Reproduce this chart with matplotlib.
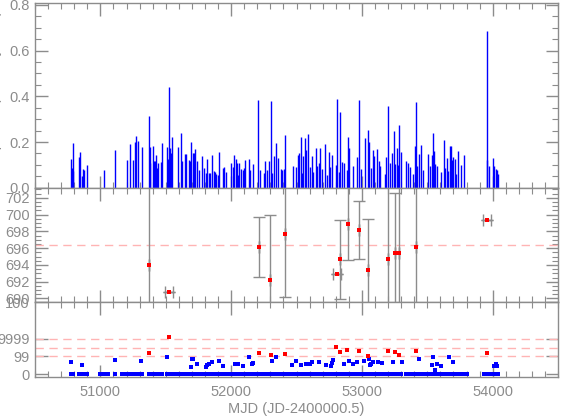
"""
Light curve summary: amplitude spikes, period estimates and quality flags vs MJD
"""
import matplotlib
matplotlib.use("Agg")
import matplotlib.pyplot as plt
from matplotlib.ticker import MultipleLocator
import numpy as np

# top panel: spike amplitudes at each observation date
spike_mjd = [50772, 50780, 50787, 50793, 50837, 50844, 50856, 50864, 50872, 50898,
             51025, 51110, 51202, 51228, 51251, 51266, 51274, 51284, 51315, 51371,
             51376, 51381, 51399, 51407, 51414, 51424, 51435, 51440, 51463, 51474,
             51507, 51517, 51524, 51530, 51537, 51547, 51593, 51616, 51624, 51645,
             51652, 51678, 51685, 51696, 51706, 51719, 51727, 51739, 51754, 51775,
             51793, 51806, 51816, 51827, 51842, 51852, 51865, 51875, 51883, 51896,
             51908, 51939, 51946, 51957, 52000, 52011, 52021, 52034, 52042, 52051,
             52061, 52074, 52088, 52100, 52107, 52134, 52146, 52169, 52207, 52223,
             52253, 52261, 52274, 52289, 52302, 52315, 52325, 52341, 52356, 52382,
             52389, 52402, 52415, 52471, 52499, 52510, 52522, 52533, 52540, 52553,
             52568, 52576, 52586, 52604, 52617, 52629, 52645, 52655, 52668, 52681,
             52698, 52721, 52729, 52745, 52755, 52773, 52801, 52809, 52821, 52834,
             52847, 52860, 52886, 52890, 52903, 52929, 52965, 52975, 52990, 53021,
             53047, 53055, 53072, 53082, 53093, 53116, 53128, 53136, 53177, 53187,
             53197, 53216, 53231, 53246, 53254, 53269, 53277, 53284, 53295, 53339,
             53354, 53366, 53387, 53402, 53412, 53423, 53438, 53451, 53466, 53504,
             53517, 53533, 53540, 53548, 53561, 53573, 53604, 53630, 53638, 53650,
             53661, 53671, 53681, 53692, 53699, 53712, 53722, 53738, 53758, 53778,
             53953, 53957, 53972, 53999, 54011, 54024, 54032, 54039]
spike_amp = [0.124, 0.088, 0.073, 0.194, 0.136, 0.156, 0.051, 0.082, 0.078, 0.099,
             0.078, 0.165, 0.121, 0.191, 0.121, 0.201, 0.225, 0.206, 0.177, 0.315,
             0.180, 0.109, 0.183, 0.118, 0.117, 0.142, 0.088, 0.109, 0.112, 0.196,
             0.180, 0.126, 0.439, 0.172, 0.153, 0.223, 0.180, 0.238, 0.117, 0.146,
             0.147, 0.121, 0.117, 0.201, 0.150, 0.153, 0.168, 0.117, 0.077, 0.139,
             0.085, 0.066, 0.124, 0.063, 0.063, 0.145, 0.074, 0.067, 0.058, 0.055,
             0.158, 0.085, 0.092, 0.070, 0.107, 0.089, 0.143, 0.124, 0.107, 0.055,
             0.107, 0.080, 0.077, 0.085, 0.121, 0.124, 0.077, 0.104, 0.384, 0.077,
             0.066, 0.117, 0.077, 0.118, 0.380, 0.063, 0.139, 0.194, 0.128, 0.080,
             0.077, 0.080, 0.229, 0.095, 0.092, 0.143, 0.150, 0.223, 0.066, 0.139,
             0.216, 0.165, 0.235, 0.092, 0.139, 0.070, 0.175, 0.095, 0.107, 0.175,
             0.080, 0.191, 0.055, 0.158, 0.089, 0.142, 0.099, 0.387, 0.070, 0.330,
             0.111, 0.109, 0.077, 0.223, 0.175, 0.096, 0.133, 0.384, 0.080, 0.219,
             0.253, 0.201, 0.085, 0.165, 0.139, 0.169, 0.118, 0.096, 0.058, 0.133,
             0.358, 0.109, 0.150, 0.248, 0.102, 0.172, 0.099, 0.274, 0.158, 0.118,
             0.109, 0.089, 0.060, 0.184, 0.374, 0.095, 0.147, 0.187, 0.077, 0.147,
             0.095, 0.143, 0.238, 0.161, 0.104, 0.095, 0.067, 0.209, 0.085, 0.128,
             0.074, 0.182, 0.182, 0.121, 0.133, 0.126, 0.058, 0.161, 0.099, 0.143,
             0.686, 0.121, 0.095, 0.128, 0.096, 0.082, 0.077, 0.060]
# observations with no measurable amplitude
zero_mjd = [51000, 51010, 51045, 51060, 51169, 51185, 51555, 51570, 51920, 51970,
            51985, 52180, 52195, 52430, 52445, 52458, 52945, 53150, 53163, 53480,
            53492, 53790, 53800, 53930, 53940]

# middle panel: period estimates with uncertainty ranges
per_mjd = [51371, 51527, 52213, 52299, 52414, 52809, 52836, 52890, 52977, 53043,
           53200, 53249, 53287, 53412, 53955]
per_val = [693.95, 690.74, 696.13, 692.20, 697.64, 692.92, 694.67, 698.87, 698.12, 693.43,
           694.67, 695.38, 695.38, 696.17, 699.38]
per_lo = [680.0, 690.74, 692.56, 680.0, 690.14, 692.92, 689.90, 694.55, 694.67, 680.0,
          680.0, 680.0, 680.0, 680.0, 699.38]
per_hi = [710.0, 690.74, 699.70, 700.00, 710.0, 692.92, 699.38, 710.0, 701.60, 699.50,
          710.0, 702.56, 710.0, 710.0, 699.38]
per_xerr = [0, 30, 0, 0, 0, 30, 0, 0, 0, 0, 0, 0, 0, 0, 30]
per_mean = 696.37

# bottom panel: quality flag (scaled), blue = below 99, red = 99 and above
flag_ticks = [0, 1, 1.98, 4.07]
flag_labels = ['0', '99', '9999', '100']
flag_lines = [1, 1.49, 1.98]
low_mjd = [50772, 50856, 51110, 51312, 51512, 51691, 51698, 51711, 51739, 51808,
           51819, 51834, 51852, 51908, 51939, 52026, 52054, 52088, 52134, 52161,
           52169, 52315, 52343, 52468, 52497, 52537, 52571, 52606, 52617, 52673,
           52727, 52760, 52768, 52775, 52862, 52901, 52934, 52965, 53019, 53052,
           53062, 53072, 53085, 53121, 53151, 53236, 53310, 53438, 53535, 53540,
           53558, 53573, 53602, 53669, 53699, 54009, 54022, 54034]
low_flag = [0.68, 0.51, 0.82, 0.73, 0.94, 0.40, 0.86, 0.83, 0.56, 0.41,
            0.53, 0.56, 0.66, 0.73, 0.47, 0.56, 0.56, 0.47, 0.94, 0.58,
            0.64, 0.73, 0.96, 0.49, 0.75, 0.51, 0.55, 0.55, 0.69, 0.68,
            0.49, 0.47, 0.60, 0.81, 0.56, 0.72, 0.56, 0.66, 0.72, 0.86,
            0.53, 0.56, 0.66, 0.66, 0.60, 0.68, 0.68, 0.83, 0.49, 0.96,
            0.23, 0.56, 0.47, 0.94, 0.68, 0.47, 0.55, 0.47]
high_mjd = [51371, 51524, 52210, 52302, 52415, 52805, 52836, 52888, 52978, 53044,
            53197, 53249, 53285, 53415, 53953]
high_flag = [1.20, 2.09, 1.17, 1.07, 1.13, 1.53, 1.24, 1.34, 1.28, 1.02,
             1.30, 1.23, 1.09, 1.30, 1.19]

GRAY = '#8c8c8c'
PINK = '#ffb4b4'

plt.rcParams['font.family'] = ['Liberation Sans', 'DejaVu Sans']

fig = plt.figure(figsize=(5.68, 4.19), dpi=100)
left, width = 0.0616, 0.921
ax1 = fig.add_axes([left, 0.5520, width, 0.4416])
ax2 = fig.add_axes([left, 0.2792, width, 0.2728])
ax3 = fig.add_axes([left, 0.1002, width, 0.1790])

for ax in (ax1, ax2, ax3):
    ax.set_xlim(50500, 54500)
    ax.xaxis.set_major_locator(MultipleLocator(1000))
    ax.xaxis.set_minor_locator(MultipleLocator(100))
    ax.tick_params(which='both', direction='in', top=True, right=True,
                   color=GRAY, labelcolor=GRAY, labelsize=10.5, pad=4)
    ax.tick_params(axis='x', pad=6)
    ax.tick_params(which='major', length=9, width=1)
    ax.tick_params(which='minor', length=4.5, width=0.8)
    for s in ax.spines.values():
        s.set_color(GRAY)
        s.set_linewidth(1)

# top panel
ax1.vlines(spike_mjd, 0, spike_amp, colors='blue', lw=1)
ax1.set_ylim(0, 0.81)
ax1.yaxis.set_major_locator(MultipleLocator(0.2))
ax1.yaxis.set_minor_locator(MultipleLocator(0.05))
ax1.yaxis.set_major_formatter(matplotlib.ticker.FormatStrFormatter('%.1f'))
ax1.tick_params(labelbottom=False)

# middle panel
pv = np.array(per_val)
yerr = [pv - np.array(per_lo), np.array(per_hi) - pv]
ax2.axhline(per_mean, color=PINK, lw=1, dashes=(6, 4))
ax2.errorbar(per_mjd, per_val, yerr=yerr, xerr=per_xerr, fmt='none',
             ecolor=GRAY, elinewidth=1, capsize=4, capthick=1)
ax2.plot(per_mjd, per_val, 's', color='red', ms=2.8, mew=0, zorder=5)
ax2.set_ylim(689.58, 703.2)
ax2.yaxis.set_major_locator(MultipleLocator(2))
ax2.yaxis.set_minor_locator(MultipleLocator(0.5))
ax2.tick_params(labelbottom=False)

# bottom panel
for yl in flag_lines:
    ax3.axhline(yl, color=PINK, lw=1, dashes=(6, 4))
all_obs = list(spike_mjd) + list(zero_mjd)
ax3.plot(all_obs, np.zeros(len(all_obs)), 's', color='blue', ms=2.4, mew=0)
ax3.plot(low_mjd, low_flag, 's', color='blue', ms=2.8, mew=0)
ax3.plot(high_mjd, high_flag, 's', color='red', ms=2.8, mew=0)
ax3.set_ylim(-0.17, 4.07)
ax3.set_yticks(flag_ticks)
ax3.set_yticklabels(flag_labels)
ax3.yaxis.set_minor_locator(matplotlib.ticker.NullLocator())
ax3.set_xlabel('MJD (JD-2400000.5)', color=GRAY, fontsize=10.5, labelpad=2)

fig.text(-0.008, 0.785, 'Amplitude (arbitrary units)', rotation=90,
         ha='center', va='center', color=GRAY, fontsize=10)

fig.savefig('out.png', dpi=100)
